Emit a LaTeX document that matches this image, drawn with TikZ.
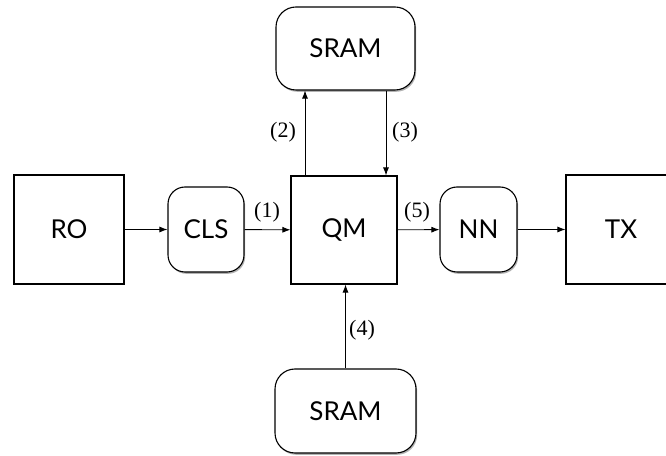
\documentclass[tikz,border=0pt]{standalone}
\usepackage{fontspec}
\setmainfont{Liberation Serif}
\newfontfamily\boxfont{Lato}
\usetikzlibrary{arrows.meta,shadows}
\begin{document}
\begin{tikzpicture}[x=1pt,y=1pt,
  sq/.style={draw=black,line width=1.1pt,fill=white,minimum width=110pt,minimum height=109pt,inner sep=0pt,font=\boxfont\fontsize{26}{30}\selectfont,
    drop shadow={shadow xshift=1pt,shadow yshift=-1.2pt,opacity=0.25,fill=black}},
  rbox/.style={draw=black,line width=1.1pt,fill=white,rounded corners=17pt,inner sep=0pt,font=\boxfont\fontsize{26}{30}\selectfont,
    drop shadow={shadow xshift=1.2pt,shadow yshift=-1.8pt,opacity=0.3,fill=black}},
  arr/.style={draw=black,line width=0.9pt,-{Latex[length=8pt,width=6pt]}},
  lab/.style={font=\fontsize{22}{25}\selectfont,inner sep=0pt}]
\useasboundingbox (0,0) rectangle (666,455);
\clip (0,0) rectangle (666,455);
\fill[white] (0,0) rectangle (666,455);
\node[sq] (RO) at (69,225.5) {RO};
\node[rbox,minimum width=76pt,minimum height=85pt] (CLS) at (206,225.5) {CLS};
\node[sq,minimum width=106pt,minimum height=108pt] (QM) at (344,225) {QM};
\node[rbox,minimum width=77pt,minimum height=85pt] (NN) at (478.5,225.5) {NN};
\node[sq] (TX) at (621,225.5) {TX};
\node[rbox,rounded corners=20pt,minimum width=139pt,minimum height=83pt] (SRAMt) at (345.5,406.5) {SRAM};
\node[rbox,rounded corners=20pt,minimum width=141pt,minimum height=84pt] (SRAMb) at (345.5,44) {SRAM};
\draw[arr] (RO) -- (CLS);
\draw[arr] (CLS) -- (QM);
\draw[arr] (QM) -- (NN);
\draw[arr] (NN) -- (TX);
\draw[arr] ([xshift=-39pt]QM.north) -- ([xshift=-39pt]QM.north |- SRAMt.south);
\draw[arr] ([xshift=42pt]QM.north |- SRAMt.south) -- ([xshift=42pt]QM.north);
\draw[arr] (SRAMb.north) -- (SRAMb.north |- QM.south);
\node[lab] (l1) at (267,243) {(1)};
\node[lab] (l2) at (283,323) {(2)};
\node[lab] (l3) at (405,323) {(3)};
\node[lab] (l4) at (362,125) {(4)};
\node[lab] (l5) at (417,243) {(5)};
\end{tikzpicture}
\end{document}
